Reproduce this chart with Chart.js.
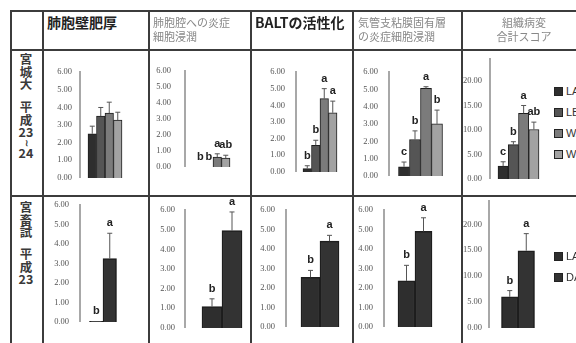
<!DOCTYPE html>
<html>
<head>
<meta charset="utf-8">
<script src="https://cdn.jsdelivr.net/npm/chart.js@4"></script>
<style>
html, body { margin: 0; padding: 0; width: 576px; height: 343px; overflow: hidden; background: #fff; }
#page { position: relative; width: 576px; height: 343px; font-family: "Noto Sans CJK JP", sans-serif; }
.ln { position: absolute; background: #3c3c3c; z-index: 5; }
.hd { position: absolute; color: #888; font-size: 11px; line-height: 14px; white-space: nowrap; }
.hd.big { color: #222; font-weight: bold; font-size: 14px; line-height: 18px; }
.rh { position: absolute; left: 10px; width: 32px; text-align: center; font-weight: bold; font-size: 12.5px; line-height: 12.5px; color: #3a3a3a; }
.lg { position: absolute; left: 554px; font-size: 11px; line-height: 21px; color: #333; white-space: nowrap; font-family: "Liberation Sans", sans-serif; }
.lg i { display: inline-block; width: 7px; height: 7px; border: 1px solid #222; margin-right: 3px; vertical-align: -1px; }
</style>
</head>
<body>
<div id="page"></div>
<script>
// groups and data
const groupsA = ['LA', 'LB', 'WA', 'WB'];   // 宮城大 平成23〜24
const groupsB = ['LA', 'DA'];               // 宮畜試 平成23
const headers = [['肺胞壁肥厚'], ['肺胞腔への炎症', '細胞浸潤'], ['BALTの活性化'], ['気管支粘膜固有層', 'の炎症細胞浸潤'], ['組織病変', '合計スコア']];
const rowA = [['宮', '城', '大'], ['平', '成', '23', '≀', '24']];
const rowB = [['宮', '畜', '試'], ['平', '成', '23']];

const meansA = [[2.5, 3.5, 3.67, 3.28], [0, 0, 0.62, 0.55], [0.2, 1.6, 4.4, 3.55], [0.53, 2.1, 5.05, 3.0], [2.6, 7.0, 13.4, 10.1]];
const errsA = [[0.43, 0.49, 0.62, 0.44], [0, 0, 0.2, 0.18], [0.17, 0.3, 0.6, 0.7], [0.27, 0.5, 0.1, 0.8], [0.9, 0.6, 1.6, 1.5]];
const lettersA = [['', '', '', ''], ['b', 'b', 'a', 'ab'], ['b', 'b', 'a', 'a'], ['c', 'b', 'a', 'b'], ['c', 'b', 'a', 'ab']];

const meansB = [[0.03, 3.25], [1.08, 4.95], [2.55, 4.4], [2.36, 4.9], [6.0, 14.9]];
const errsB = [[0, 1.3], [0.4, 0.95], [0.35, 0.3], [0.8, 0.7], [1.2, 3.3]];
const lettersB = [['b', 'a'], ['b', 'a'], ['b', 'a'], ['b', 'a'], ['b', 'a']];

const axisMax = [6, 6, 6, 6, 24.5];
const axisStep = [1, 1, 1, 1, 5];

const colorsA = ['#2e2e2e', '#555555', '#7b7b7b', '#a2a2a2'];
const colorsB = ['#2e2e2e', '#333333'];

// where each little chart sits in the table
const boxA = [
  { l: 43, ax: 80, cx: 105, bw: 8.5, top: 72, bot: 185, gap: 8 },
  { l: 149, ax: 185, cx: 213, bw: 8.5, top: 70, bot: 180, gap: 14 },
  { l: 251, ax: 296, cx: 320, bw: 8.5, top: 72, bot: 182, gap: 11 },
  { l: 353, ax: 389, cx: 420.5, bw: 11, top: 72, bot: 186, gap: 11 },
  { l: 462, ax: 490, cx: 518.5, bw: 10.25, top: 58.6, bot: 186, gap: 8 }
];
const boxB = [
  { l: 43, ax: 80, cx: 103, bw: 13.5, top: 205, bot: 332, gap: 11 },
  { l: 149, ax: 185, cx: 222, bw: 20, top: 210, bot: 337, gap: 10 },
  { l: 251, ax: 286, cx: 320, bw: 19, top: 210, bot: 337, gap: 11 },
  { l: 353, ax: 384, cx: 415, bw: 17, top: 210, bot: 337, gap: 11 },
  { l: 462, ax: 489, cx: 518, bw: 16.5, top: 200.5, bot: 334, gap: 7 }
];

const page = document.getElementById('page');

// error bars and letters
const marks = {
  id: 'marks',
  afterDatasetsDraw(chart, args, opts) {
    const ctx = chart.ctx;
    const y = chart.scales.y;
    chart.data.datasets.forEach((ds, i) => {
      const bar = chart.getDatasetMeta(i).data[0];
      const top = y.getPixelForValue(ds.data[0] + opts.errs[i]);
      ctx.save();
      if (opts.errs[i] > 0) {
        ctx.strokeStyle = '#555';
        ctx.lineWidth = 1;
        ctx.beginPath();
        ctx.moveTo(bar.x, bar.y);
        ctx.lineTo(bar.x, top);
        ctx.moveTo(bar.x - 2.5, top);
        ctx.lineTo(bar.x + 2.5, top);
        ctx.stroke();
      }
      if (opts.letters[i]) {
        ctx.fillStyle = '#222';
        ctx.font = 'bold 11px "Liberation Sans"';
        ctx.textAlign = 'center';
        ctx.textBaseline = 'middle';
        ctx.fillText(opts.letters[i], bar.x, top - 10);
      }
      ctx.restore();
    });
  }
};

function drawChart(box, groups, means, errs, letters, colors, max, step, bw) {
  const pt = 18, pb = 6;
  const cv = document.createElement('canvas');
  cv.width = 2 * box.cx - box.ax - box.l;
  cv.height = box.bot - box.top + pt + pb;
  cv.style.cssText = 'position:absolute;left:' + box.l + 'px;top:' + (box.top - pt) + 'px;';
  page.appendChild(cv);
  new Chart(cv, {
    type: 'bar',
    data: {
      labels: [''],
      datasets: groups.map((g, i) => ({
        label: g,
        data: [means[i]],
        backgroundColor: colors[i],
        borderColor: '#1e1e1e',
        borderWidth: bw,
        barThickness: box.bw
      }))
    },
    options: {
      responsive: false,
      animation: false,
      devicePixelRatio: 1,
      layout: { padding: { top: pt, bottom: pb, left: 0, right: 0 } },
      plugins: { legend: { display: false }, tooltip: { enabled: false }, marks: { errs: errs, letters: letters } },
      scales: {
        x: { display: false },
        y: {
          min: 0,
          max: max,
          grid: { display: false, drawTicks: false },
          border: { color: '#a8a8a8', width: 2 },
          ticks: {
            stepSize: step,
            includeBounds: false,
            padding: box.gap,
            color: '#555',
            font: { family: 'Liberation Serif', size: 8.5 },
            callback: v => v.toFixed(2)
          },
          afterFit(s) { s.width = box.ax - box.l; }
        }
      }
    },
    plugins: [marks]
  });
}

for (let c = 0; c < 5; c++) {
  drawChart(boxA[c], groupsA, meansA[c], errsA[c], lettersA[c], colorsA, axisMax[c], axisStep[c], 1);
  drawChart(boxB[c], groupsB, meansB[c], errsB[c], lettersB[c], colorsB, axisMax[c], axisStep[c], 1.5);
}

// table lines
function line(x, y, w, h) {
  const d = document.createElement('div');
  d.className = 'ln';
  d.style.cssText = 'left:' + x + 'px;top:' + y + 'px;width:' + w + 'px;height:' + h + 'px;';
  page.appendChild(d);
}
[10, 49, 195].forEach(y => line(10, y, 566, y === 195 ? 2 : 1.5));
[10, 42, 148, 250, 352, 461].forEach(x => line(x, 10, 1.5, 333));

// column headers
const headPos = [
  { l: 47, t: 13, big: true },
  { l: 153, t: 15 },
  { l: 255, t: 13, big: true },
  { l: 358, t: 15 },
  { l: 474, t: 15, w: 100 }
];
headers.forEach((h, i) => {
  const d = document.createElement('div');
  const p = headPos[i];
  d.className = 'hd' + (p.big ? ' big' : '');
  d.style.left = p.l + 'px';
  d.style.top = p.t + 'px';
  if (p.w) { d.style.width = p.w + 'px'; d.style.textAlign = 'center'; }
  d.innerHTML = h.join('<br>');
  page.appendChild(d);
});

// row headers
function rowHead(lines, top) {
  const d = document.createElement('div');
  d.className = 'rh';
  d.style.top = top + 'px';
  d.innerHTML = lines.map(s => s === '≀' ? '<div style="height:8px;line-height:8px;font-size:9px">' + s + '</div>' : '<div>' + s + '</div>').join('');
  page.appendChild(d);
}
rowHead(rowA[0], 53);
rowHead(rowA[1], 101);
rowHead(rowB[0], 201);
rowHead(rowB[1], 248);

// legends
function legend(groups, colors, top) {
  const d = document.createElement('div');
  d.className = 'lg';
  d.style.top = top + 'px';
  d.innerHTML = groups.map((g, i) => '<div><i style="background:' + colors[i] + '"></i>' + g + '</div>').join('');
  page.appendChild(d);
}
legend(groupsA, colorsA, 81);
legend(groupsB, colorsB, 246);
</script>
</body>
</html>
